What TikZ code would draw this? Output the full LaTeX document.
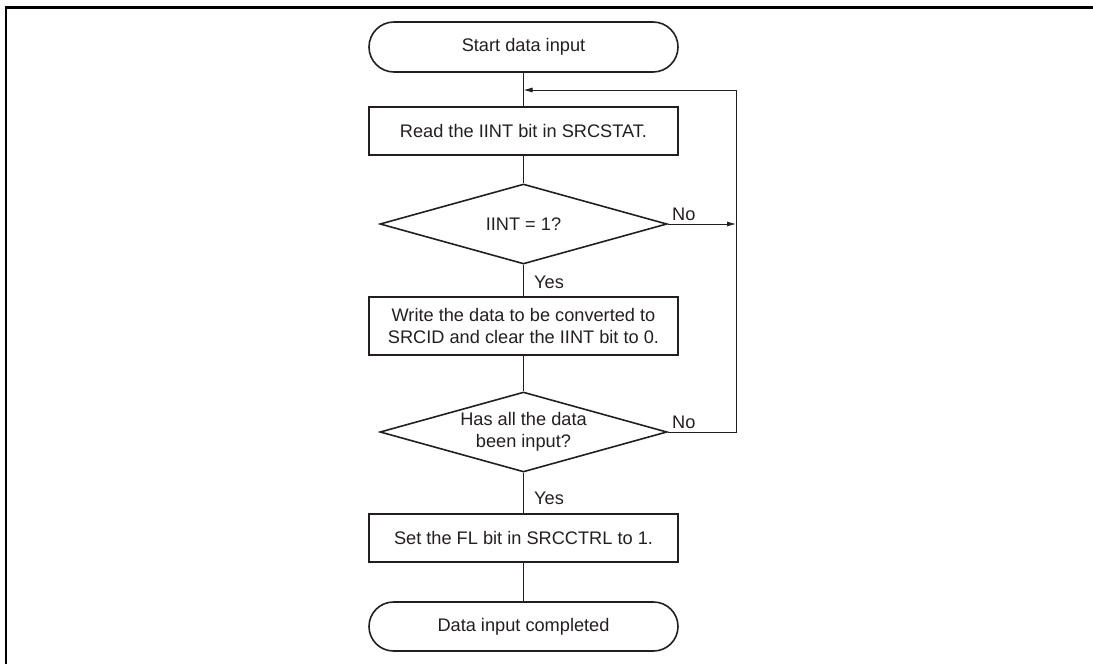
\documentclass[tikz,border=0pt]{standalone}
\usepackage{fontspec}
\setmainfont{Liberation Sans}
\usetikzlibrary{shapes.geometric,shapes.misc,arrows.meta}
\definecolor{ink}{HTML}{231F20}
\begin{document}
\begin{tikzpicture}[x=1pt,y=-1pt,
  every node/.style={font=\fontsize{18.2}{22.5}\selectfont, text=ink},
  term/.style={rounded rectangle, draw=ink, line width=1.6pt, minimum width=309pt, minimum height=50pt, inner sep=0pt},
  proc/.style={rectangle, draw=ink, line width=1.6pt, minimum width=309pt, minimum height=48pt, inner sep=0pt, align=center},
  dec/.style={diamond, draw=ink, line width=1.6pt, minimum width=287pt, minimum height=80pt, inner sep=0pt, shape aspect=3.59, align=center},
  conn/.style={draw=ink, line width=0.9pt},
  arr/.style={conn, -{Latex[length=9pt,width=5pt]}},
  lab/.style={inner sep=0pt}
]
\useasboundingbox (0,0) rectangle (1093,664);
\draw[line width=2.4pt, black] (6,664) -- (6,7.5) -- (1093,7.5);

\node[term] (start) at (523.5,47) {Start data input};
\node[proc] (read) at (523.5,131) {Read the IINT bit in SRCSTAT.};
\node[dec] (q1) at (523.5,224) {IINT = 1?};
\node[proc, minimum height=58pt] (write) at (523.5,326) {Write the data to be converted to\\SRCID and clear the IINT bit to 0.};
\node[dec] (q2) at (523.5,432) {Has all the data\\been input?};
\node[proc] (set) at (523.5,538) {Set the FL bit in SRCCTRL to 1.};
\node[term, minimum height=49pt] (end) at (523.5,626.5) {Data input completed};

\coordinate (loopTop) at (736,90);
\coordinate (join) at (523.5,90);
\coordinate (loopMid) at (736,224);
\coordinate (loopBot) at (736,432);

\draw[conn] (start) -- (read);
\draw[arr] (loopTop) -- (join);
\draw[conn] (read) -- (q1);
\draw[arr] (q1.east) -- (loopMid);
\node[lab, anchor=south west] (no1) at (672,221) {No};
\draw[conn] (q1) -- (write);
\node[lab, anchor=west] (yes1) at (534,282) {Yes};
\draw[conn] (write) -- (q2);
\draw[conn] (q2.east) -- (loopBot) -- (loopTop);
\node[lab, anchor=south west] (no2) at (672,429) {No};
\draw[conn] (q2) -- (set);
\node[lab, anchor=west] (yes2) at (534,498) {Yes};
\draw[conn] (set) -- (end);
\end{tikzpicture}
\end{document}
